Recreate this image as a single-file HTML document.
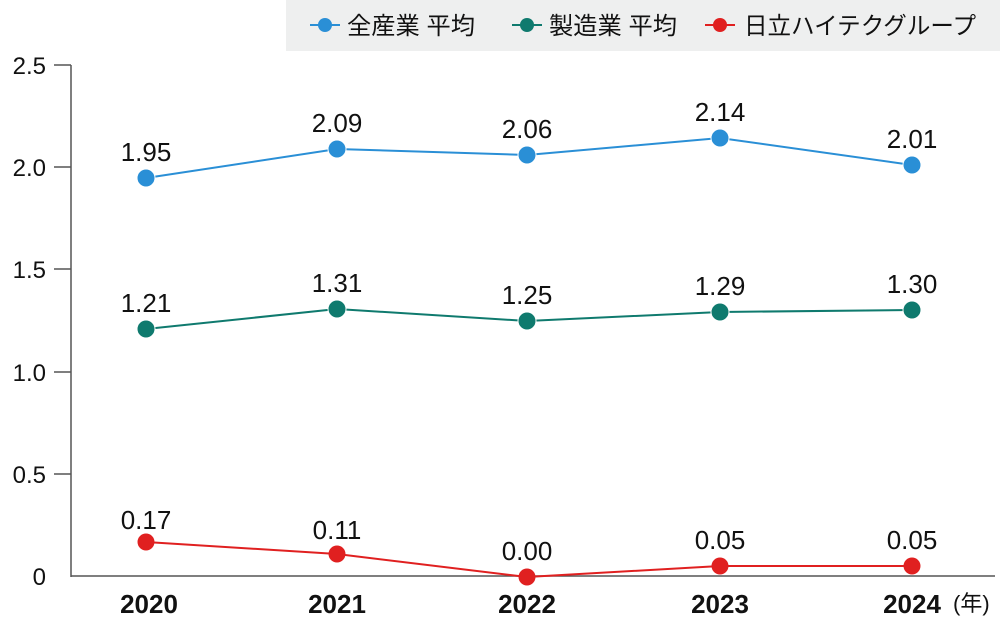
<!DOCTYPE html>
<html><head><meta charset="utf-8"><style>
body{margin:0;background:#fff;}
svg text{font-family:"Liberation Sans","Noto Sans CJK JP",sans-serif;fill:#111;}
</style></head><body>
<svg width="1000" height="621" viewBox="0 0 1000 621" xmlns="http://www.w3.org/2000/svg">
<rect x="286" y="0" width="714" height="51" fill="#eeefef"/>
<g font-size="24">
<line x1="310" y1="25" x2="340" y2="25" stroke="#2a8fd6" stroke-width="2"/><circle cx="325" cy="25" r="7" fill="#2a8fd6"/>
<text x="347" y="34" textLength="128" lengthAdjust="spacingAndGlyphs">全産業 平均</text>
<line x1="512" y1="25" x2="542" y2="25" stroke="#0f7a6e" stroke-width="2"/><circle cx="527" cy="25" r="7" fill="#0f7a6e"/>
<text x="549" y="34" textLength="128" lengthAdjust="spacingAndGlyphs">製造業 平均</text>
<line x1="705" y1="25" x2="735" y2="25" stroke="#e02020" stroke-width="2"/><circle cx="720" cy="25" r="7" fill="#e02020"/>
<text x="744" y="34" textLength="232" lengthAdjust="spacingAndGlyphs">日立ハイテクグループ</text>
</g>
<g stroke="#555" stroke-width="1.5" fill="none">
<line x1="71" y1="65" x2="71" y2="577"/>
<line x1="71" y1="576" x2="995" y2="576"/>
<line x1="54" y1="65" x2="71" y2="65"/>
<line x1="54" y1="167" x2="71" y2="167"/>
<line x1="54" y1="269" x2="71" y2="269"/>
<line x1="54" y1="372" x2="71" y2="372"/>
<line x1="54" y1="474" x2="71" y2="474"/>
</g>
<g font-size="24" text-anchor="end">
<text x="46" y="74">2.5</text><text x="46" y="176">2.0</text><text x="46" y="278">1.5</text>
<text x="46" y="381">1.0</text><text x="46" y="483">0.5</text><text x="46" y="585">0</text>
</g>
<g font-size="26" font-weight="bold" text-anchor="middle">
<text x="149" y="613">2020</text><text x="337" y="613">2021</text><text x="527" y="613">2022</text>
<text x="720" y="613">2023</text><text x="912" y="613">2024</text>
</g>
<text x="953" y="611" font-size="22">(年)</text>
<polyline points="146,178 337,149 527,155 720,138 912,165" fill="none" stroke="#2a8fd6" stroke-width="2"/>
<polyline points="146,329 337,309 527,321 720,312 912,310" fill="none" stroke="#0f7a6e" stroke-width="2"/>
<polyline points="146,542 337,554 527,577 720,566 912,566" fill="none" stroke="#e02020" stroke-width="2"/>
<g fill="#2a8fd6" stroke="#fff" stroke-width="1"><circle cx="146" cy="178" r="9"/><circle cx="337" cy="149" r="9"/><circle cx="527" cy="155" r="9"/><circle cx="720" cy="138" r="9"/><circle cx="912" cy="165" r="9"/></g>
<g fill="#0f7a6e" stroke="#fff" stroke-width="1"><circle cx="146" cy="329" r="9"/><circle cx="337" cy="309" r="9"/><circle cx="527" cy="321" r="9"/><circle cx="720" cy="312" r="9"/><circle cx="912" cy="310" r="9"/></g>
<g fill="#e02020"><circle cx="146" cy="542" r="8.5"/><circle cx="337" cy="554" r="8.5"/><circle cx="527" cy="577" r="8.5"/><circle cx="720" cy="566" r="8.5"/><circle cx="912" cy="566" r="8.5"/></g>
<g font-size="26" text-anchor="middle">
<text x="146" y="161">1.95</text><text x="337" y="132">2.09</text><text x="527" y="138">2.06</text><text x="720" y="121">2.14</text><text x="912" y="148">2.01</text>
<text x="146" y="312">1.21</text><text x="337" y="292">1.31</text><text x="527" y="304">1.25</text><text x="720" y="295">1.29</text><text x="912" y="293">1.30</text>
<text x="146" y="529">0.17</text><text x="337" y="539">0.11</text><text x="527" y="560">0.00</text><text x="720" y="549">0.05</text><text x="912" y="549">0.05</text>
</g>
</svg>
</body></html>
